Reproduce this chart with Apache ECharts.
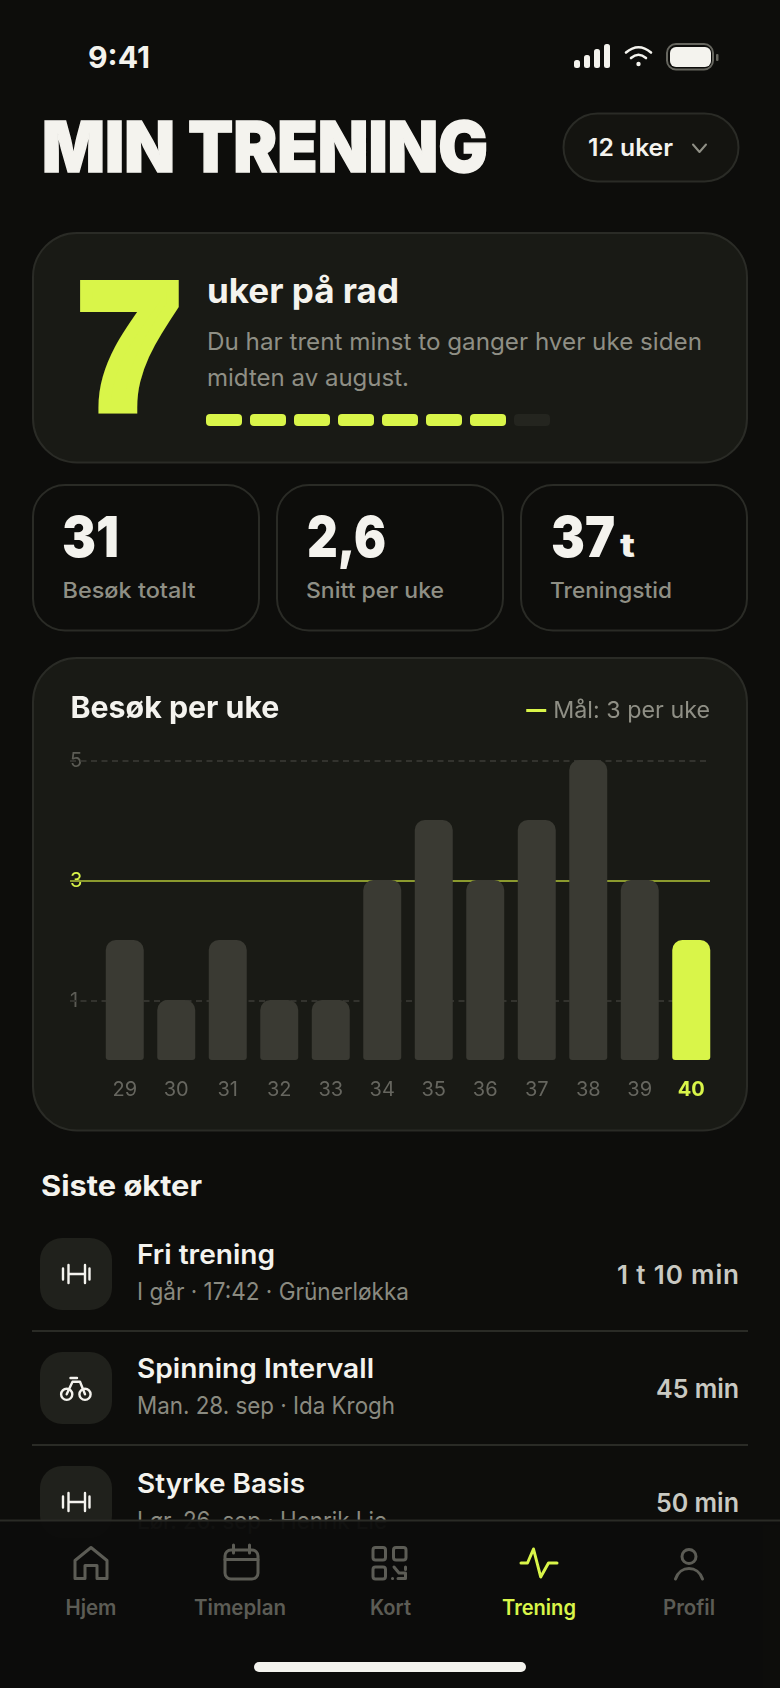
<!DOCTYPE html>
<html lang="no">
<head>
<meta charset="utf-8">
<title>Min trening</title>
<script src="https://cdn.jsdelivr.net/npm/echarts@6/dist/echarts.min.js"></script>
<style>
  html, body { margin: 0; padding: 0; background: #0d0d0b; }
  #app { position: relative; width: 780px; height: 1688px; overflow: hidden; }
  #screen { position: absolute; left: 0; top: 0; }
  #chart { position: absolute; left: 32px; top: 657px; width: 716px; height: 474px; }
  text { font-family: Inter, "Noto Sans", sans-serif; }
  .white { fill: #f4f3ee; }
  .muted { fill: #8f8f85; }
  .name { fill: #f4f3ee; font-size: 27px; font-weight: 600; }
  .sub { fill: #8a8a80; font-size: 24px; font-weight: 400; }
  .dur { fill: #c9c9c2; font-size: 26px; font-weight: 600; text-anchor: end; }
  .stat { fill: #f4f3ee; font-size: 57px; font-weight: 900; }
  .lab { fill: #8f8f85; font-size: 22px; font-weight: 500; }
  .tab { fill: #5c5c55; font-size: 21px; font-weight: 600; text-anchor: middle; }
  .ico { fill: none; stroke: #5c5c55; stroke-width: 3; stroke-linejoin: round; stroke-linecap: round; }
  .tool { fill: none; stroke: #f4f3ee; stroke-width: 2.4; stroke-linecap: round; stroke-linejoin: round; }
  .box { fill: #20211c; }
  .card { fill: #191a15; stroke: #2a2b26; stroke-width: 2; }
  .statcard { fill: #0d0d0b; stroke: #2a2b26; stroke-width: 2; }
  .rule { stroke: #2a2b26; stroke-width: 2; }
  .seg { fill: #d9f549; }
</style>
</head>
<body>
<div id="app">
<svg id="screen" width="780" height="1688" viewBox="0 0 780 1688">
  <!-- statuslinje -->
  <text class="white" x="88" y="68" font-size="30" font-weight="700" textLength="62" lengthAdjust="spacingAndGlyphs">9:41</text>
  <g fill="#f4f3ee">
    <rect x="574" y="60" width="6" height="8" rx="2.5"/>
    <rect x="584" y="55" width="6" height="13" rx="2.5"/>
    <rect x="594" y="49" width="6" height="19" rx="2.5"/>
    <rect x="604" y="44" width="6" height="24" rx="2.5"/>
    <circle cx="638.5" cy="64" r="2.2"/>
    <rect x="670" y="47" width="41" height="20" rx="6"/>
  </g>
  <g fill="none" stroke="#f4f3ee" stroke-width="2.6" stroke-linecap="round">
    <path d="M626 52.5 Q638.5 42 651 52.5"/>
    <path d="M631 58 Q638.5 51.5 646 58"/>
  </g>
  <rect x="667" y="44" width="46" height="25.5" rx="9" fill="none" stroke="#66665f" stroke-width="2"/>
  <rect x="716" y="54" width="2.5" height="7" rx="1" fill="#66665f"/>

  <!-- topp -->
  <text class="white" x="42" y="171.5" font-size="70" font-weight="900" stroke="#f4f3ee" stroke-width="1.4" textLength="446" lengthAdjust="spacingAndGlyphs">MIN TRENING</text>
  <rect x="563.5" y="113.5" width="175" height="68" rx="34" fill="#141410" stroke="#2a2b26" stroke-width="2"/>
  <text class="white" x="588" y="156" font-size="24" font-weight="600" textLength="85" lengthAdjust="spacingAndGlyphs">12 uker</text>
  <path d="M693 144.5 L699.5 152 L706 144.5" fill="none" stroke="#8f8f85" stroke-width="2" stroke-linecap="round" stroke-linejoin="round"/>

  <!-- rekke -->
  <rect class="card" x="33" y="233" width="714" height="229.5" rx="44"/>
  <text x="78.6" y="408" fill="#d9f549" stroke="#d9f549" stroke-width="12" stroke-linejoin="miter" style="font-family:'Liberation Sans'" font-size="176" font-weight="700" textLength="102" lengthAdjust="spacingAndGlyphs">7</text>
  <text class="white" x="207" y="303" font-size="34" font-weight="700" textLength="192" lengthAdjust="spacingAndGlyphs">uker på rad</text>
  <text class="muted" x="207" y="350" font-size="24" textLength="495" lengthAdjust="spacingAndGlyphs">Du har trent minst to ganger hver uke siden</text>
  <text class="muted" x="207" y="386" font-size="24" textLength="202" lengthAdjust="spacingAndGlyphs">midten av august.</text>
  <rect class="seg" x="206" y="414" width="36" height="12" rx="4"/>
  <rect class="seg" x="250" y="414" width="36" height="12" rx="4"/>
  <rect class="seg" x="294" y="414" width="36" height="12" rx="4"/>
  <rect class="seg" x="338" y="414" width="36" height="12" rx="4"/>
  <rect class="seg" x="382" y="414" width="36" height="12" rx="4"/>
  <rect class="seg" x="426" y="414" width="36" height="12" rx="4"/>
  <rect class="seg" x="470" y="414" width="36" height="12" rx="4"/>
  <rect x="514" y="414" width="36" height="12" rx="4" fill="#24251f"/>

  <!-- nøkkeltall -->
  <rect class="statcard" x="33" y="485" width="226" height="145.5" rx="32"/>
  <rect class="statcard" x="277" y="485" width="226" height="145.5" rx="32"/>
  <rect class="statcard" x="521" y="485" width="226" height="145.5" rx="32"/>
  <text class="stat" x="62" y="557" textLength="57" lengthAdjust="spacingAndGlyphs">31</text>
  <text class="stat" x="307" y="557" textLength="79" lengthAdjust="spacingAndGlyphs">2,6</text>
  <text class="stat" x="551" y="557" textLength="64" lengthAdjust="spacingAndGlyphs">37</text>
  <text class="white" x="620" y="557" font-size="33" font-weight="800" textLength="15" lengthAdjust="spacingAndGlyphs">t</text>
  <text class="lab" x="62.5" y="598" textLength="133" lengthAdjust="spacingAndGlyphs">Besøk totalt</text>
  <text class="lab" x="306" y="598" textLength="138" lengthAdjust="spacingAndGlyphs">Snitt per uke</text>
  <text class="lab" x="550" y="598" textLength="122" lengthAdjust="spacingAndGlyphs">Treningstid</text>

  <!-- graf-kort, selve grafen ligger oppå -->
  <rect class="card" x="33" y="658" width="714" height="472.5" rx="44"/>

  <!-- siste økter -->
  <text class="white" x="41" y="1196" font-size="28" font-weight="700" textLength="161" lengthAdjust="spacingAndGlyphs">Siste økter</text>

  <rect class="box" x="40" y="1238" width="72" height="72" rx="22"/>
  <path class="tool" d="M63 1268.5 V1279.5 M68.5 1265 V1283 M68.5 1274 H85 M85 1265 V1283 M89.5 1268.5 V1279.5"/>
  <text class="name" x="137" y="1264" textLength="138" lengthAdjust="spacingAndGlyphs">Fri trening</text>
  <text class="sub" x="137" y="1300" textLength="272" lengthAdjust="spacingAndGlyphs">I går · 17:42 · Grünerløkka</text>
  <text class="dur" x="739" y="1284" textLength="122" lengthAdjust="spacing">1 t 10 min</text>
  <line class="rule" x1="32" x2="748" y1="1331" y2="1331"/>

  <rect class="box" x="40" y="1352" width="72" height="72" rx="22"/>
  <g class="tool">
    <circle cx="66.7" cy="1394.3" r="5.6"/>
    <circle cx="85" cy="1394.3" r="5.6"/>
    <path d="M70.5 1378 H77 M66.7 1394.3 L72.5 1381.8 H80 L85 1394.3"/>
  </g>
  <text class="name" x="137" y="1378" textLength="237" lengthAdjust="spacingAndGlyphs">Spinning Intervall</text>
  <text class="sub" x="137" y="1414" textLength="258" lengthAdjust="spacingAndGlyphs">Man. 28. sep · Ida Krogh</text>
  <text class="dur" x="739" y="1398" textLength="83" lengthAdjust="spacingAndGlyphs">45 min</text>
  <line class="rule" x1="32" x2="748" y1="1445" y2="1445"/>

  <rect class="box" x="40" y="1466" width="72" height="72" rx="22"/>
  <path class="tool" d="M63 1496.5 V1507.5 M68.5 1493 V1511 M68.5 1502 H85 M85 1493 V1511 M89.5 1496.5 V1507.5"/>
  <text class="name" x="137" y="1492.5" textLength="168" lengthAdjust="spacingAndGlyphs">Styrke Basis</text>
  <text class="sub" x="137" y="1529" textLength="250" lengthAdjust="spacingAndGlyphs">Lør. 26. sep · Henrik Lie</text>
  <text class="dur" x="739" y="1512" textLength="83" lengthAdjust="spacingAndGlyphs">50 min</text>

  <!-- bunnmeny -->
  <rect x="0" y="1521" width="780" height="167" fill="#0d0d0b" fill-opacity="0.96"/>
  <line class="rule" x1="0" x2="780" y1="1520.5" y2="1520.5"/>
  <path class="ico" d="M75 1578.5 V1560.5 L91 1547.5 L107 1560.5 V1578.5 H97 V1565.5 H85 V1578.5 Z"/>
  <g class="ico">
    <rect x="225" y="1550" width="33" height="29" rx="6"/>
    <path d="M225 1559.5 H258 M233.5 1545 V1553 M249.5 1545 V1553"/>
    <rect x="373" y="1547.5" width="12.5" height="12.5" rx="2.5"/>
    <rect x="393.5" y="1547.5" width="12.5" height="12.5" rx="2.5"/>
    <rect x="373" y="1567" width="12.5" height="12" rx="2.5"/>
    <path d="M394 1567 L399 1573 H405.5 V1578.5 H398 M405.5 1567 V1569.5 M392.5 1578.5 H392.6"/>
    <circle cx="689" cy="1556.5" r="7"/>
    <path d="M675.5 1579 C680 1565 698 1565 702.5 1579"/>
  </g>
  <path d="M521 1563 H527.5 L533.5 1549 L540.7 1577 L548.5 1563 H557" fill="none" stroke="#d9f549" stroke-width="3" stroke-linecap="round" stroke-linejoin="round"/>
  <text class="tab" x="91" y="1615" textLength="51" lengthAdjust="spacingAndGlyphs">Hjem</text>
  <text class="tab" x="240" y="1615" textLength="92" lengthAdjust="spacingAndGlyphs">Timeplan</text>
  <text class="tab" x="390.5" y="1615" textLength="41" lengthAdjust="spacingAndGlyphs">Kort</text>
  <text class="tab" x="539" y="1615" textLength="74" lengthAdjust="spacingAndGlyphs" style="fill:#d9f549">Trening</text>
  <text class="tab" x="689" y="1615" textLength="52" lengthAdjust="spacingAndGlyphs">Profil</text>
  <rect x="254" y="1662" width="272" height="10" rx="5" fill="#f4f3ee"/>
</svg>
<div id="chart"></div>
</div>
<script>
// besøk per uke
var weeks = ['29', '30', '31', '32', '33', '34', '35', '36', '37', '38', '39', '40'];
var visits = [2, 1, 2, 1, 1, 3, 4, 3, 4, 5, 3, 2];
var currentWeek = '40';
var goal = 3;
var guides = [1, 5];
var yTicks = [1, 3, 5];
var goalLabel = 'Mål: 3 per uke';

var lime = '#d9f549';

var myChart = echarts.init(document.getElementById('chart'));

var option = {
    animation: false,
    backgroundColor: 'transparent',
    textStyle: { fontFamily: 'Inter' },
    title: {
        text: 'Besøk per uke',
        left: 38.5,
        top: 37,
        padding: 0,
        textStyle: { color: '#f4f3ee', fontSize: 30.3, fontWeight: 700, fontFamily: 'Inter' }
    },
    legend: {
        right: 38,
        top: 42,
        padding: 0,
        itemWidth: 20,
        itemHeight: 3,
        itemGap: 0,
        selectedMode: false,
        data: [{ name: goalLabel, icon: 'rect' }],
        textStyle: { color: '#8f8f85', fontSize: 23.3, fontFamily: 'Inter', padding: [0, 0, 0, 2] }
    },
    // to grid: linjene starter ved tallene, søylene litt lenger inn
    grid: [
        { left: 38, top: 104, width: 640, height: 300 },
        { left: 67, top: 103, width: 618, height: 300 }
    ],
    xAxis: [
        { gridIndex: 0, type: 'category', data: weeks, show: false },
        {
            gridIndex: 1,
            type: 'category',
            data: weeks,
            axisLine: { show: false },
            axisTick: { show: false },
            axisLabel: {
                margin: 20,
                interval: 0,
                formatter: function (value) {
                    return value === currentWeek ? '{cur|' + value + '}' : '{week|' + value + '}';
                },
                rich: {
                    week: { color: '#66665f', fontSize: 20, fontFamily: 'Inter' },
                    cur: { color: lime, fontSize: 20, fontWeight: 700, fontFamily: 'Inter' }
                }
            }
        }
    ],
    yAxis: [
        {
            gridIndex: 0,
            type: 'value',
            min: 0,
            max: 5,
            axisLine: { show: false },
            axisTick: { show: false },
            splitLine: { show: false },
            axisLabel: {
                inside: true,
                margin: 0,
                customValues: yTicks,
                align: 'left',
                fontSize: 20,
                fontFamily: 'Inter',
                padding: [0, 0, 4, 0],
                color: function (value) {
                    return Number(value) === goal ? lime : '#5c5c55';
                }
            }
        },
        { gridIndex: 1, type: 'value', min: 0, max: 5, show: false }
    ],
    series: [
        {
            name: goalLabel,
            type: 'line',
            xAxisIndex: 0,
            yAxisIndex: 0,
            data: [],
            z: 1,
            color: lime,
            itemStyle: { color: lime },
            lineStyle: { color: lime },
            markLine: {
                z: 1,
                silent: true,
                symbol: 'none',
                label: { show: false },
                data: guides.map(function (v) {
                    return { yAxis: v, lineStyle: { color: '#33332e', width: 2, type: [6, 4.5] } };
                }).concat([{ yAxis: goal, lineStyle: { color: '#8b9a2e', width: 2, type: 'solid' } }])
            }
        },
        {
            type: 'bar',
            xAxisIndex: 1,
            yAxisIndex: 1,
            z: 2,
            barWidth: 38,
            data: visits.map(function (v, i) {
                return {
                    value: v,
                    itemStyle: {
                        color: weeks[i] === currentWeek ? lime : '#3a3a33',
                        borderRadius: [10, 10, 3, 3]
                    }
                };
            })
        }
    ]
};

myChart.setOption(option);

window.addEventListener('resize', function () {
    myChart.resize();
});
</script>
</body>
</html>
